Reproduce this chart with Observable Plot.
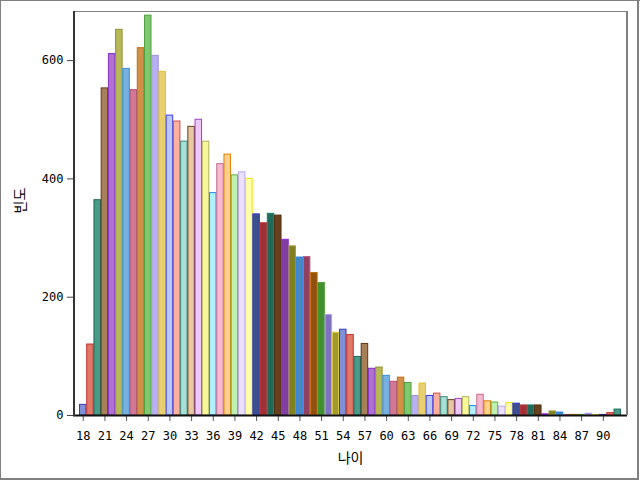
<!DOCTYPE html>
<html><head><meta charset="utf-8">
<script src="https://cdn.jsdelivr.net/npm/d3@7"></script>
<script src="https://cdn.jsdelivr.net/npm/@observablehq/plot@0.6"></script>
<style>body{margin:0;background:#fff} #chart{width:640px;height:481px}</style>
</head><body><div id="chart"></div>
<script>
const ages = [18,19,20,21,22,23,24,25,26,27,28,29,30,31,32,33,34,35,36,37,38,39,40,41,42,43,44,45,46,47,48,49,50,51,52,53,54,55,56,57,58,59,60,61,62,63,64,65,66,67,68,69,70,71,72,73,74,75,76,77,78,79,80,81,82,83,84,85,86,87,88,89,90,91,92];
const counts = [18,120,364,553,611,652,586,550,621,676,608,581,507,497,463,488,500,463,376,425,441,406,411,400,340,325,341,338,297,286,267,268,241,224,170,140,145,136,99,121,79,81,67,57,64,55,33,54,33,37,31,26,28,31,16,35,24,22,15,21,20,17,17,17,2,7,5,1,1,1,3,1,1,4,10];
const xTicks = [18,21,24,27,30,33,36,39,42,45,48,51,54,57,60,63,66,69,72,75,78,81,84,87,90];
const yTicks = [0,200,400,600];
const fills = [
  "#7f8fd8","#e07868","#4a9a8a","#a88058","#b070d0","#b8b858","#78b0e0","#d07898","#d09048","#80c870","#b8b0f0","#e8d070",
  "#b8c8ff","#ffb0a0","#a8e0d8","#e8c8a0","#f0c8f8","#f8f898","#b0f0ff","#f8b8d0","#ffd090","#c0f0b0","#ece0ff","#ffffb0",
  "#3a5090","#a03038","#206858","#684020","#8040a0","#808020","#4888c0","#904060","#905010","#409030","#8070c0","#a09830"
];
const strokes = [
  "#3b3bc0","#c03030","#1a6a5a","#603818","#8030c0","#909030","#3090e0","#b05078","#c07010","#50a040","#a090e0","#e0c030",
  "#4040e0","#d05050","#408878","#604020","#a040c0","#b0b060","#2090f0","#c07090","#e08000","#60b040","#b8a8f0","#f0e000",
  "#3030d0","#c03030","#108070","#503010","#9020e0","#a0a040","#2080e0","#c06080","#c07000","#50a030","#b0a0f0","#e0d040"
];
const data = ages.map((a, i) => ({age: a, count: counts[i], fill: fills[i % 36], stroke: strokes[i % 36]}));

const W = 640, H = 481, ML = 73, MR = 13, MT = 11, MB = 66;
const plot = Plot.plot({
  width: W, height: H, marginLeft: ML, marginRight: MR, marginTop: MT, marginBottom: MB,
  style: {fontFamily: "'DejaVu Sans Mono', monospace", fontSize: "12px", color: "#000", background: "#fff"},
  x: {type: "band", domain: ages, paddingInner: 0.1, paddingOuter: 0.9, align: 0.5, round: false},
  y: {domain: [0, 683]},
  color: {type: "identity"},
  marks: [
    Plot.barY(data, {x: "age", y: "count", fill: "fill", stroke: "stroke", strokeWidth: 1}),
    Plot.axisX(xTicks, {tickSize: 6, tickPadding: 10, stroke: "#555", label: null, fill: "#000"}),
    Plot.axisY(yTicks, {tickSize: 6, tickPadding: 4, stroke: "#444", label: null, fill: "#000"}),
    Plot.ruleY([0], {stroke: "#111", strokeWidth: 2}),
    Plot.text(["나이"], {frameAnchor: "bottom", dy: 47, fontFamily: "'Noto Sans CJK KR'", fontSize: 14, fill: "#000"}),
    Plot.text(["빈도"], {frameAnchor: "left", dx: -53, rotate: -90, fontFamily: "'Noto Sans CJK KR'", fontSize: 14, fill: "#000"})
  ]
});
document.getElementById("chart").appendChild(plot);
const svg = d3.select(plot);
const line = (x1, y1, x2, y2, c, w) => svg.append("line").attr("x1", x1).attr("y1", y1).attr("x2", x2).attr("y2", y2).attr("stroke", c).attr("stroke-width", w);
// inner frame
line(ML, MT + 0.5, W - MR, MT + 0.5, "#808080", 1);
line(W - MR, MT, W - MR, H - MB, "#808080", 2);
line(ML + 1, MT, ML + 1, H - MB + 1, "#333", 2);
// outer frame
line(0, 0.5, W, 0.5, "#808080", 1);
line(0.5, 0, 0.5, 480, "#808080", 1);
line(638, 0, 638, 480, "#808080", 2);
line(0, 479, 639, 479, "#808080", 2);
</script></body></html>
